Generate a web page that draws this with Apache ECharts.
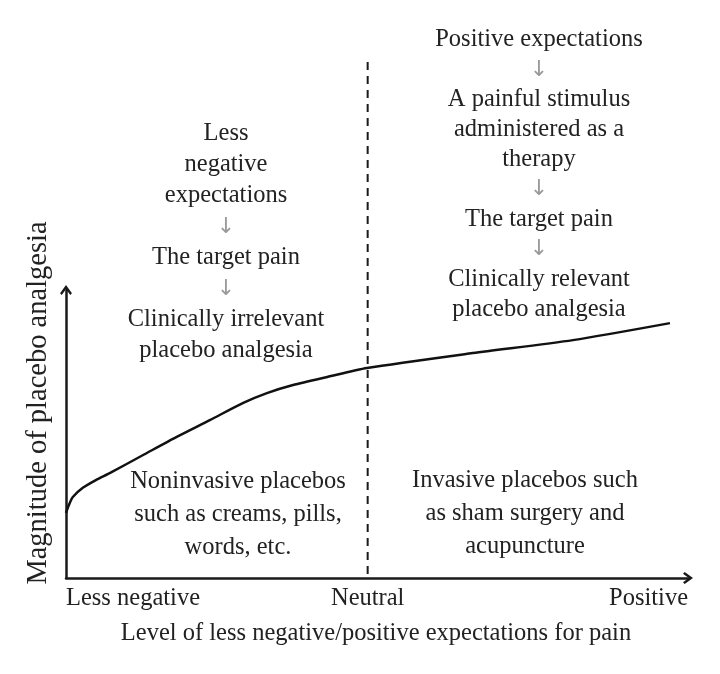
<!DOCTYPE html>
<html>
<head>
<meta charset="utf-8">
<script src="https://cdn.jsdelivr.net/npm/echarts@6/dist/echarts.min.js"></script>
<style>html,body{margin:0;padding:0;background:#fff}#c{width:720px;height:674px}</style>
</head>
<body>
<div id="c"></div>
<script>
// ---- data ----
const xTickValues = [0, 48.5, 100];
const xTickLabels = ['Less negative', 'Neutral', 'Positive'];
const neutralX = 48.5;
const curveX = [0, 0.5, 1.1, 2.7, 4.8, 7.1, 12.4, 17.8, 23.2, 28.5, 32.3, 36.5, 42.0, 48.4, 65.4, 81.5, 97.1];
const curveY = [22.6, 25.5, 28.1, 31.3, 34.0, 36.5, 42.7, 49.0, 54.9, 60.8, 64.2, 67.0, 69.8, 72.9, 78.1, 82.6, 88.5];
const xAxisTitle = 'Level of less negative/positive expectations for pain';
const yAxisTitle = 'Magnitude of placebo analgesia';
const leftTopLines = ['Less', 'negative', 'expectations', '↓', 'The target pain', '↓', 'Clinically irrelevant', 'placebo analgesia'];
const rightTopLines = ['Positive expectations', '↓', 'A painful stimulus', 'administered as a', 'therapy', '↓', 'The target pain', '↓', 'Clinically relevant', 'placebo analgesia'];
const leftBottomLines = ['Noninvasive placebos', 'such as creams, pills,', 'words, etc.'];
const rightBottomLines = ['Invasive placebos such', 'as sham surgery and', 'acupuncture'];

// ---- chart ----
const FONT = '"Liberation Serif", "DejaVu Serif", serif';
const FS = 24.5;
const TXT = '#222';
const chart = echarts.init(document.getElementById('c'), null, {renderer: 'canvas'});
const arrowPath = 'path://M5,0 L10,7 L8.6,8.4 L5,3.6 L1.4,8.4 L0,7 Z';

const option = {
  animation: false,
  backgroundColor: '#fff',
  grid: {left: 66, right: 32, top: 290, bottom: 96, containLabel: false},
  xAxis: {
    type: 'value', min: 0, max: 100,
    splitLine: {show: false},
    axisTick: {show: false},
    axisLine: {show: true, lineStyle: {color: '#1a1a1a', width: 2.5},
      symbol: ['none', arrowPath], symbolSize: [18, 10]},
    axisLabel: {
      show: true, customValues: xTickValues,
      formatter: v => xTickLabels[xTickValues.indexOf(v)] || '',
      alignMinLabel: 'left', alignMaxLabel: 'right',
      color: TXT, fontFamily: FONT, fontSize: FS, margin: 8
    }
  },
  yAxis: {
    type: 'value', min: 0, max: 100,
    splitLine: {show: false},
    axisTick: {show: false},
    axisLabel: {show: false},
    axisLine: {show: true, lineStyle: {color: '#1a1a1a', width: 2.5},
      symbol: ['none', arrowPath], symbolSize: [18, 10]}
  },
  series: [{
    type: 'line',
    data: curveX.map((x, i) => [x, curveY[i]]),
    smooth: 0.25,
    symbol: 'none',
    lineStyle: {color: '#111', width: 2.5}
  }]
};
chart.setOption(option);

function block(lines, cx, firstCenterY, lh) {
  const text = lines.map(l => l === '↓' ? '{a|↓}' : l).join('\n');
  return {
    type: 'text', x: cx, y: firstCenterY - lh / 2, z: 10,
    style: {
      text: text, align: 'center', verticalAlign: 'top',
      fontFamily: FONT, fontSize: FS, fill: TXT, lineHeight: lh,
      rich: {a: {fontFamily: '"DejaVu Sans", sans-serif', fontSize: 22, fill: '#9a9a9a', lineHeight: lh}}
    }
  };
}

const nx = chart.convertToPixel({xAxisIndex: 0}, neutralX);
const yBottom = chart.convertToPixel({yAxisIndex: 0}, 0);

chart.setOption({
  graphic: [
    {type: 'line', z: 5, shape: {x1: nx, y1: 62, x2: nx, y2: yBottom},
      style: {stroke: '#1a1a1a', lineWidth: 2, lineDash: [8, 6]}},
    block(leftTopLines, 226, 134, 31),
    block(rightTopLines, 539, 40, 29.9),
    block(leftBottomLines, 238, 482, 33),
    block(rightBottomLines, 525, 481, 33),
    {type: 'text', x: 376, y: 634, style: {text: xAxisTitle, align: 'center', verticalAlign: 'middle',
      fontFamily: FONT, fontSize: FS, fill: TXT}},
    {type: 'text', x: 39, y: 403, rotation: Math.PI / 2, style: {text: yAxisTitle, align: 'center', verticalAlign: 'middle',
      fontFamily: FONT, fontSize: 28.5, fill: TXT}}
  ]
});
</script>
</body>
</html>
